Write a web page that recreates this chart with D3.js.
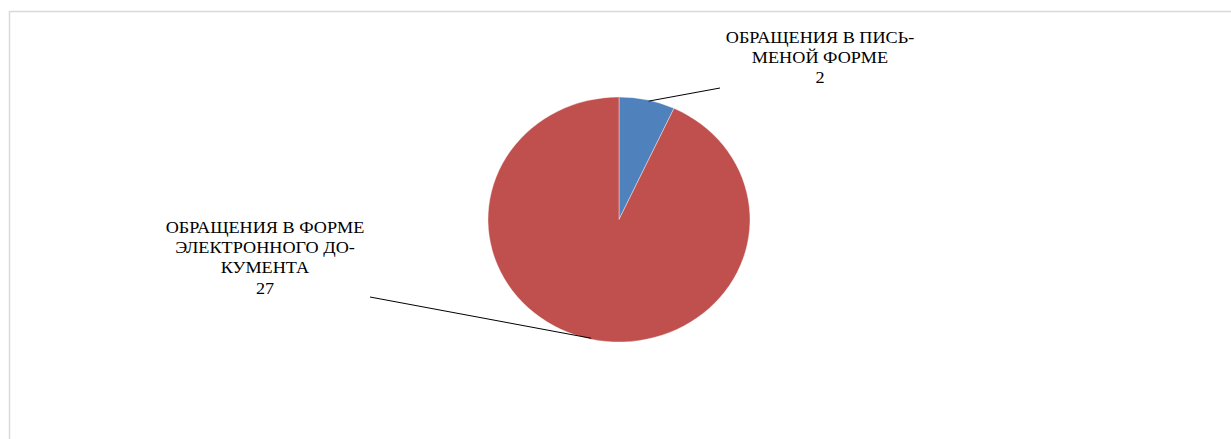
<!DOCTYPE html>
<html>
<head>
<meta charset="utf-8">
<script src="https://cdn.jsdelivr.net/npm/d3@7"></script>
<style>
  html, body { margin: 0; padding: 0; background: #fff; overflow: hidden; }
</style>
</head>
<body>
<svg id="chart"></svg>
<script>
// Data
const categories = ['ОБРАЩЕНИЯ В ПИСЬМЕНОЙ ФОРМЕ', 'ОБРАЩЕНИЯ В ФОРМЕ ЭЛЕКТРОННОГО ДОКУМЕНТА'];
const values = [2, 27];
const labelLines = [
  ['ОБРАЩЕНИЯ В ПИСЬ-', 'МЕНОЙ ФОРМЕ'],
  ['ОБРАЩЕНИЯ В ФОРМЕ', 'ЭЛЕКТРОННОГО ДО-', 'КУМЕНТА']
];
const colors = ['#4f81bd', '#c0504d'];

const width = 1231;
const height = 439;

const svg = d3.select('#chart')
  .attr('width', width)
  .attr('height', height);

// Chart area border (runs past the window on right and bottom)
svg.append('rect')
  .attr('x', 9.5)
  .attr('y', 11.5)
  .attr('width', 1260)
  .attr('height', 460)
  .style('fill', 'none')
  .style('stroke', '#d9d9d9')
  .style('stroke-width', 1.5);

const cx = 619;
const cy = 219.5;
const radius = 131;
const yScale = 122.5 / 131; // the whole picture is slightly stretched sideways
const textStretch = 1.07;

const pie = d3.pie().sort(null).value(d => d);
const arcs = pie(values);

const arc = d3.arc().innerRadius(0).outerRadius(radius);

const pieGroup = svg.append('g')
  .attr('transform', `translate(${cx}, ${cy}) scale(1, ${yScale})`);

pieGroup.selectAll('path.slice')
  .data(arcs)
  .join('path')
  .attr('class', 'slice')
  .attr('d', arc)
  .style('fill', (d, i) => colors[i])
  .style('stroke', '#fff')
  .style('stroke-width', 0.4);

// Label positions and leader lines
const labelPos = [
  { x: 820, y: 42.7, lineFrom: [720, 88] },
  { x: 265, y: 232.8, lineFrom: [370, 297] }
];

// point on the ellipse edge near the slice, where the leader ends
const edgeAt = (angle, r) => [
  cx + r * Math.sin(angle),
  cy - r * yScale * Math.cos(angle)
];
const leaderAngles = [0.23, Math.PI + 0.215];

const lineH = 20.3;

arcs.forEach((d, i) => {
  const p = labelPos[i];
  const end = edgeAt(leaderAngles[i], radius - 1);

  svg.append('line')
    .attr('x1', p.lineFrom[0])
    .attr('y1', p.lineFrom[1])
    .attr('x2', end[0])
    .attr('y2', end[1])
    .style('stroke', '#000')
    .style('stroke-width', 1);

  const t = svg.append('text')
    .attr('transform', `translate(${p.x}, ${p.y}) scale(${textStretch}, 1)`)
    .attr('text-anchor', 'middle')
    .attr('font-family', 'Liberation Serif')
    .attr('font-size', 17)
    .attr('fill', '#000');

  labelLines[i].concat([String(values[i])]).forEach((s, j) => {
    t.append('tspan')
      .attr('x', 0)
      .attr('y', j * lineH)
      .text(s);
  });
});
</script>
</body>
</html>
